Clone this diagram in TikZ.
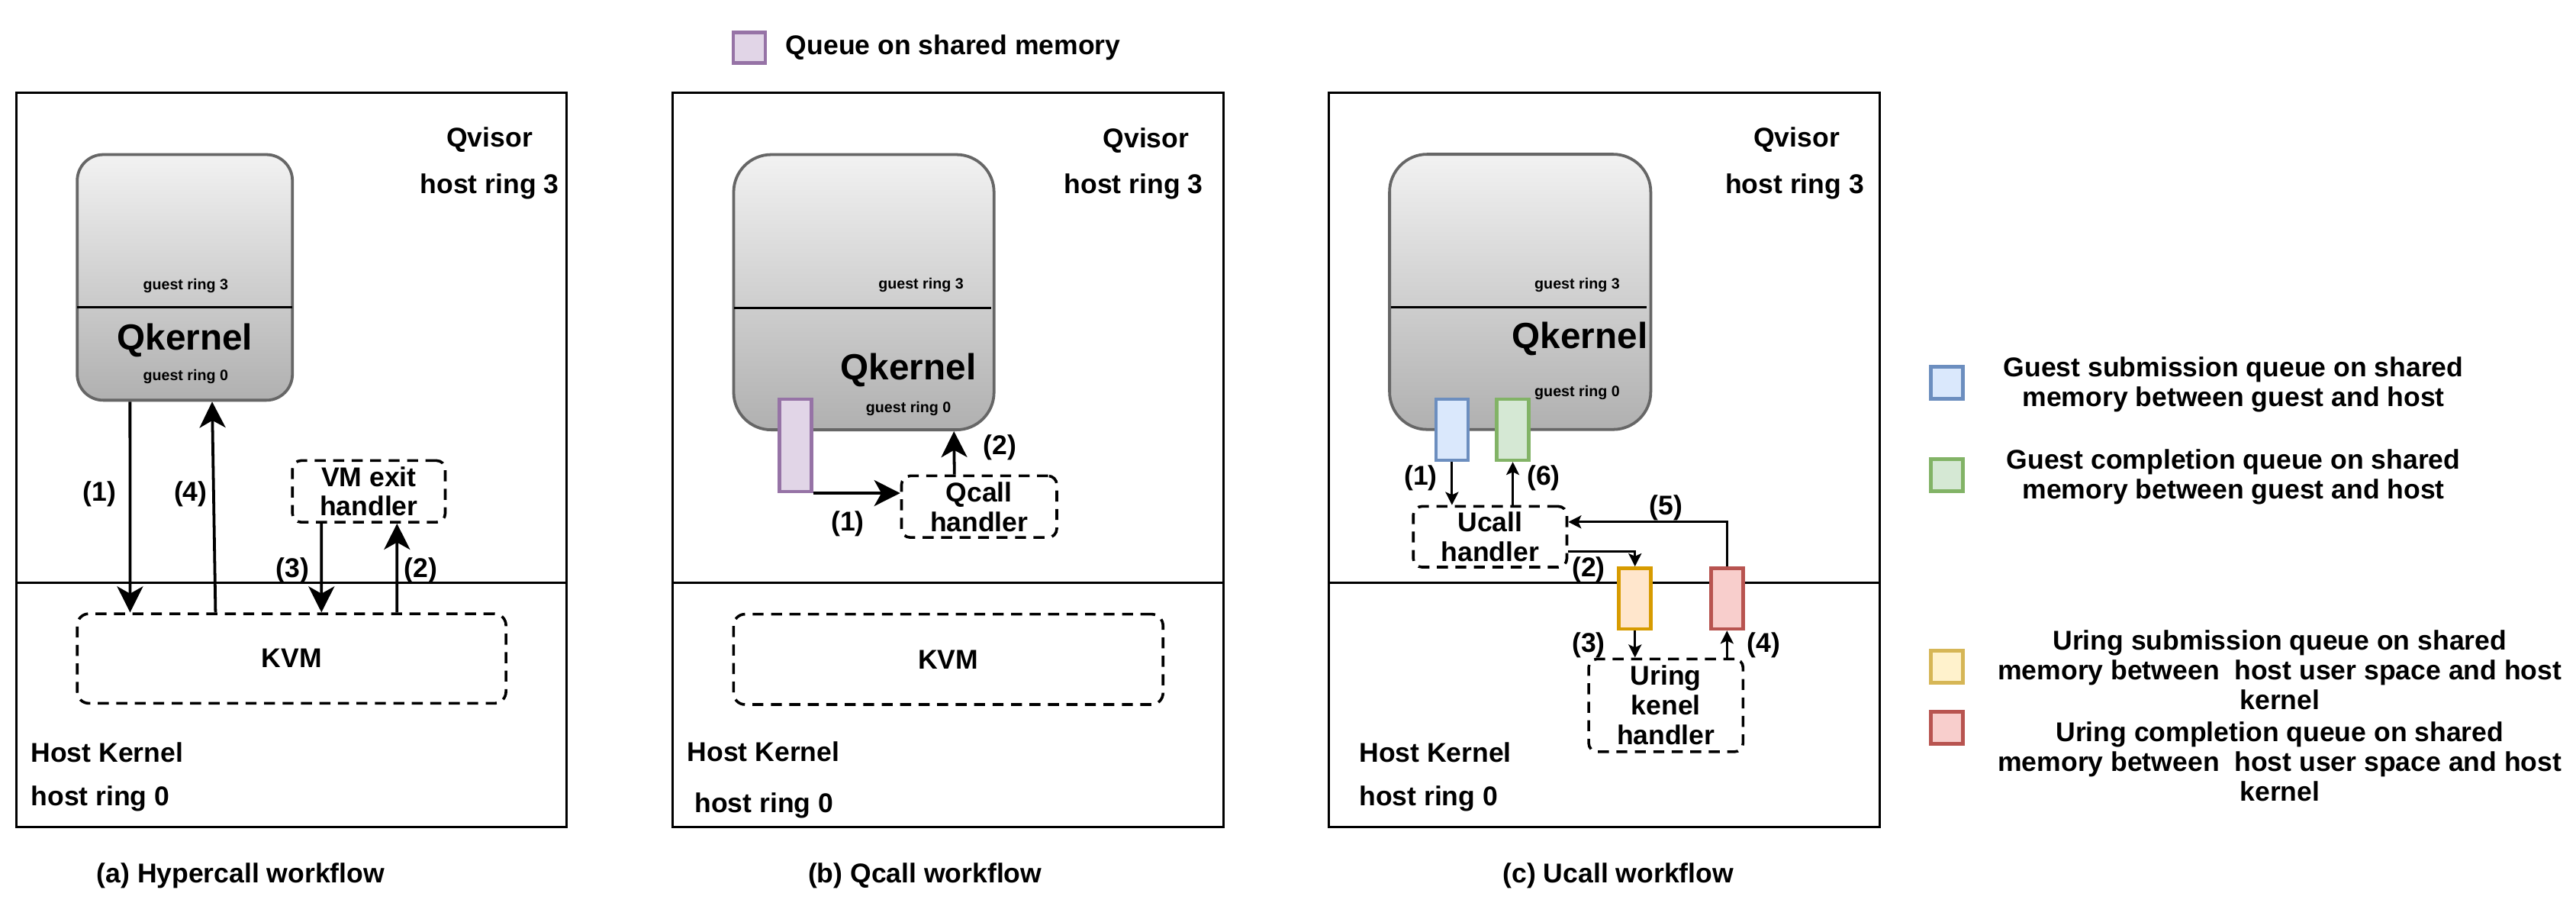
\documentclass[tikz,border=0pt]{standalone}
\usepackage{fontspec}
\setmainfont{Liberation Sans}
\usetikzlibrary{arrows.meta, positioning}
\definecolor{qtop}{HTML}{F2F2F2}
\definecolor{qbot}{HTML}{B0B0B0}
\definecolor{qedge}{HTML}{666666}
\definecolor{purplef}{HTML}{E1D5E7}
\definecolor{purpled}{HTML}{9673A6}
\definecolor{bluef}{HTML}{DAE8FC}
\definecolor{blued}{HTML}{6C8EBF}
\definecolor{greenf}{HTML}{D5E8D4}
\definecolor{greend}{HTML}{82B366}
\definecolor{orangef}{HTML}{FFE6CC}
\definecolor{oranged}{HTML}{D79B00}
\definecolor{yellowf}{HTML}{FFF2CC}
\definecolor{yellowd}{HTML}{D6B656}
\definecolor{redf}{HTML}{F8CECC}
\definecolor{redd}{HTML}{B85450}
\tikzset{%
	panel/.style={draw, line width=0.8pt},
	kernel/.style={draw=qedge, line width=1pt, top color=qtop, bottom color=qbot, inner sep=0pt},
	handler/.style={draw, line width=0.95pt, dash pattern=on 3.8pt off 2.6pt,%
		rounded corners=3pt, align=center, inner sep=0pt},
	queue/.style={draw, line width=1.2pt, minimum width=0.39cm, inner sep=0pt},
	flow/.style={-{Stealth[length=9pt, width=9pt, inset=2.5pt]}, line width=1pt},
	sflow/.style={-{Stealth[length=4.5pt, width=4.5pt, inset=1pt]}, line width=0.8pt},
	ring/.style={font=\bfseries\fontsize{5.2}{6}\selectfont, inner sep=0pt},
	qk/.style={font=\bfseries\fontsize{12.6}{14}\selectfont, inner sep=0pt},
	lbl/.style={inner sep=0pt},
	legend/.style={align=center, inner sep=0pt}
}
\begin{document}
\begin{tikzpicture}[x=0.02cm, y=-0.02cm, font=\bfseries\fontsize{9.4}{10.3}\selectfont]
	\useasboundingbox (0,0) rectangle (1568,559);

	\node[queue, fill=purplef, draw=purpled, minimum height=0.37cm] (keyq) at (456,29) {};
	\node[lbl, anchor=west] (keyqt) at (478,29) {Queue on shared memory};

	% (a) hypercall
	\draw[panel] (10,56.5) rectangle (345,503.3);
	\draw[panel] (10,354.6) -- (345,354.6);
	\node[lbl] (qva) at (298,85) {Qvisor};
	\node[lbl] (hr3a) at (298,113.5) {host ring 3};
	\node[lbl, anchor=west] (hka) at (18.5,458) {Host Kernel};
	\node[lbl, anchor=west] (hr0a) at (18.5,486) {host ring 0};

	\node[kernel, rounded corners=9pt, minimum width=2.62cm, minimum height=2.99cm] (qka) at (112.5,168.8) {};
	\draw[line width=0.9pt] (47,187) -- (178,187);
	\node[ring] (gr3a) at (113,174) {guest ring 3};
	\node[qk] (qkta) at (112.5,207) {Qkernel};
	\node[ring] (gr0a) at (113,229) {guest ring 0};

	\node[handler, rounded corners=4pt, minimum width=5.22cm, minimum height=1.09cm] (kvma) at (177.5,400.7) {KVM};
	\node[handler, minimum width=1.86cm, minimum height=0.75cm] (vmexit) at (224.5,299) {VM exit\\handler};

	\draw[flow] ([xshift=0.66cm]qka.south west) -- ([xshift=0.66cm]kvma.north west);
	\draw[flow] ([xshift=1.70cm]kvma.north west) -- ([xshift=1.66cm]qka.south west);
	\draw[flow] ([xshift=0.37cm]vmexit.south west) -- ([xshift=2.99cm]kvma.north west);
	\draw[flow] ([xshift=3.91cm]kvma.north west) -- ([xshift=1.29cm]vmexit.south west);
	\node[lbl] (a1) at (60.6,300.5) {(1)};
	\node[lbl] (a4) at (116,300.5) {(4)};
	\node[lbl] (a3) at (178,347) {(3)};
	\node[lbl] (a2) at (256,347) {(2)};
	\node[lbl] (capa) at (146.5,533) {(a) Hypercall workflow};

	% (b) qcall
	\draw[panel] (409.4,56.5) rectangle (744.8,503.3);
	\draw[panel] (409.4,354.6) -- (744.8,354.6);
	\node[lbl] (qvb) at (697.6,85.6) {Qvisor};
	\node[lbl] (hr3b) at (690,113.5) {host ring 3};
	\node[lbl, anchor=west] (hkb) at (418,457.6) {Host Kernel};
	\node[lbl, anchor=west] (hr0b) at (422.5,490) {host ring 0};

	\node[kernel, rounded corners=13pt, minimum width=3.17cm, minimum height=3.35cm] (qkb) at (525.8,177.8) {};
	\draw[line width=0.9pt] (447,187.3) -- (603.5,187.3);
	\node[ring] (gr3b) at (560.6,173.6) {guest ring 3};
	\node[qk] (qktb) at (553,225) {Qkernel};
	\node[ring] (gr0b) at (553,248.5) {guest ring 0};
	\node[queue, fill=purplef, draw=purpled, minimum height=1.12cm] (pqueue) at (484.3,271) {};

	\node[handler, rounded corners=4pt, minimum width=5.23cm, minimum height=1.1cm] (kvmb) at (577.2,401.2) {KVM};
	\node[handler, minimum width=1.89cm, minimum height=0.75cm] (qcall) at (596,308.3) {Qcall\\handler};

	\draw[flow] (pqueue.south east) -- (pqueue.south east -| qcall.west);
	\draw[flow] ([xshift=0.66cm]qcall.north west) -- ([xshift=2.70cm]qkb.south west);
	\node[lbl] (b1) at (516,318.7) {(1)};
	\node[lbl] (b2) at (608.5,272.3) {(2)};
	\node[lbl] (capb) at (563,533) {(b) Qcall workflow};

	% (c) ucall
	\draw[panel] (808.9,56.5) rectangle (1144.3,503.3);
	\draw[panel] (808.9,354.6) -- (1144.3,354.6);
	\node[lbl] (qvc) at (1093.6,85) {Qvisor};
	\node[lbl] (hr3c) at (1092.4,113.5) {host ring 3};
	\node[lbl, anchor=west] (hkc) at (827,458) {Host Kernel};
	\node[lbl, anchor=west] (hr0c) at (827,486) {host ring 0};

	\node[kernel, rounded corners=13pt, minimum width=3.18cm, minimum height=3.35cm] (qkc) at (925.3,177.6) {};
	\draw[line width=0.9pt] (846.5,187) -- (1002.5,187);
	\node[ring] (gr3c) at (960,173.6) {guest ring 3};
	\node[qk] (qktc) at (961.7,206) {Qkernel};
	\node[ring] (gr0c) at (960,238.7) {guest ring 0};

	\node[queue, fill=bluef, draw=blued, minimum height=0.74cm] (qsub) at (883.8,261.5) {};
	\node[queue, fill=greenf, draw=greend, minimum height=0.74cm] (qcomp) at (920.8,261.5) {};
	\node[queue, fill=orangef, draw=oranged, minimum height=0.74cm] (usub) at (995.2,364.2) {};
	\node[queue, fill=redf, draw=redd, minimum height=0.74cm] (ucomp) at (1051.2,364.2) {};

	\node[handler, minimum width=1.87cm, minimum height=0.74cm] (ucall) at (907,326.6) {Ucall\\handler};
	\node[handler, minimum width=1.88cm, minimum height=1.13cm] (uring) at (1014,429.2) {Uring\\kenel\\handler};

	\draw[sflow] (qsub.south) -- (qsub.south |- ucall.north);
	\draw[sflow] (qcomp.south |- ucall.north) -- (qcomp.south);
	\draw[sflow] ([yshift=-0.18cm]ucall.east) -| (usub.north);
	\draw[sflow] (usub.south) -- (usub.south |- uring.north);
	\draw[sflow] (ucomp.south |- uring.north) -- (ucomp.south);
	\draw[sflow] (ucomp.north) |- ([yshift=0.18cm]ucall.east);
	\node[lbl] (c1) at (864.8,290.7) {(1)};
	\node[lbl] (c6) at (939.6,290.7) {(6)};
	\node[lbl] (c5) at (1014,308.9) {(5)};
	\node[lbl] (c2) at (967,346.6) {(2)};
	\node[lbl] (c3) at (967,392.5) {(3)};
	\node[lbl] (c4) at (1073.4,392.5) {(4)};
	\node[lbl] (capc) at (985,533) {(c) Ucall workflow};

	% legend
	\node[queue, fill=bluef, draw=blued, minimum height=0.39cm] (keysub) at (1185,233) {};
	\node[legend] (keysubt) at (1359.5,234.2) {Guest submission queue on shared\\memory between guest and host};
	\node[queue, fill=greenf, draw=greend, minimum height=0.39cm] (keycomp) at (1185,289) {};
	\node[legend] (keycompt) at (1359.5,290) {Guest completion queue on shared\\memory between guest and host};
	\node[queue, fill=yellowf, draw=yellowd, minimum height=0.39cm] (keyusub) at (1185,405.6) {};
	\node[legend] (keyusubt) at (1387.7,407.5) {Uring submission queue on shared\\memory between\ \ host user space and host\\kernel};
	\node[queue, fill=redf, draw=redd, minimum height=0.39cm] (keyucomp) at (1185,442.8) {};
	\node[legend] (keyucompt) at (1387.7,463.5) {Uring completion queue on shared\\memory between\ \ host user space and host\\kernel};

\end{tikzpicture}
\end{document}
